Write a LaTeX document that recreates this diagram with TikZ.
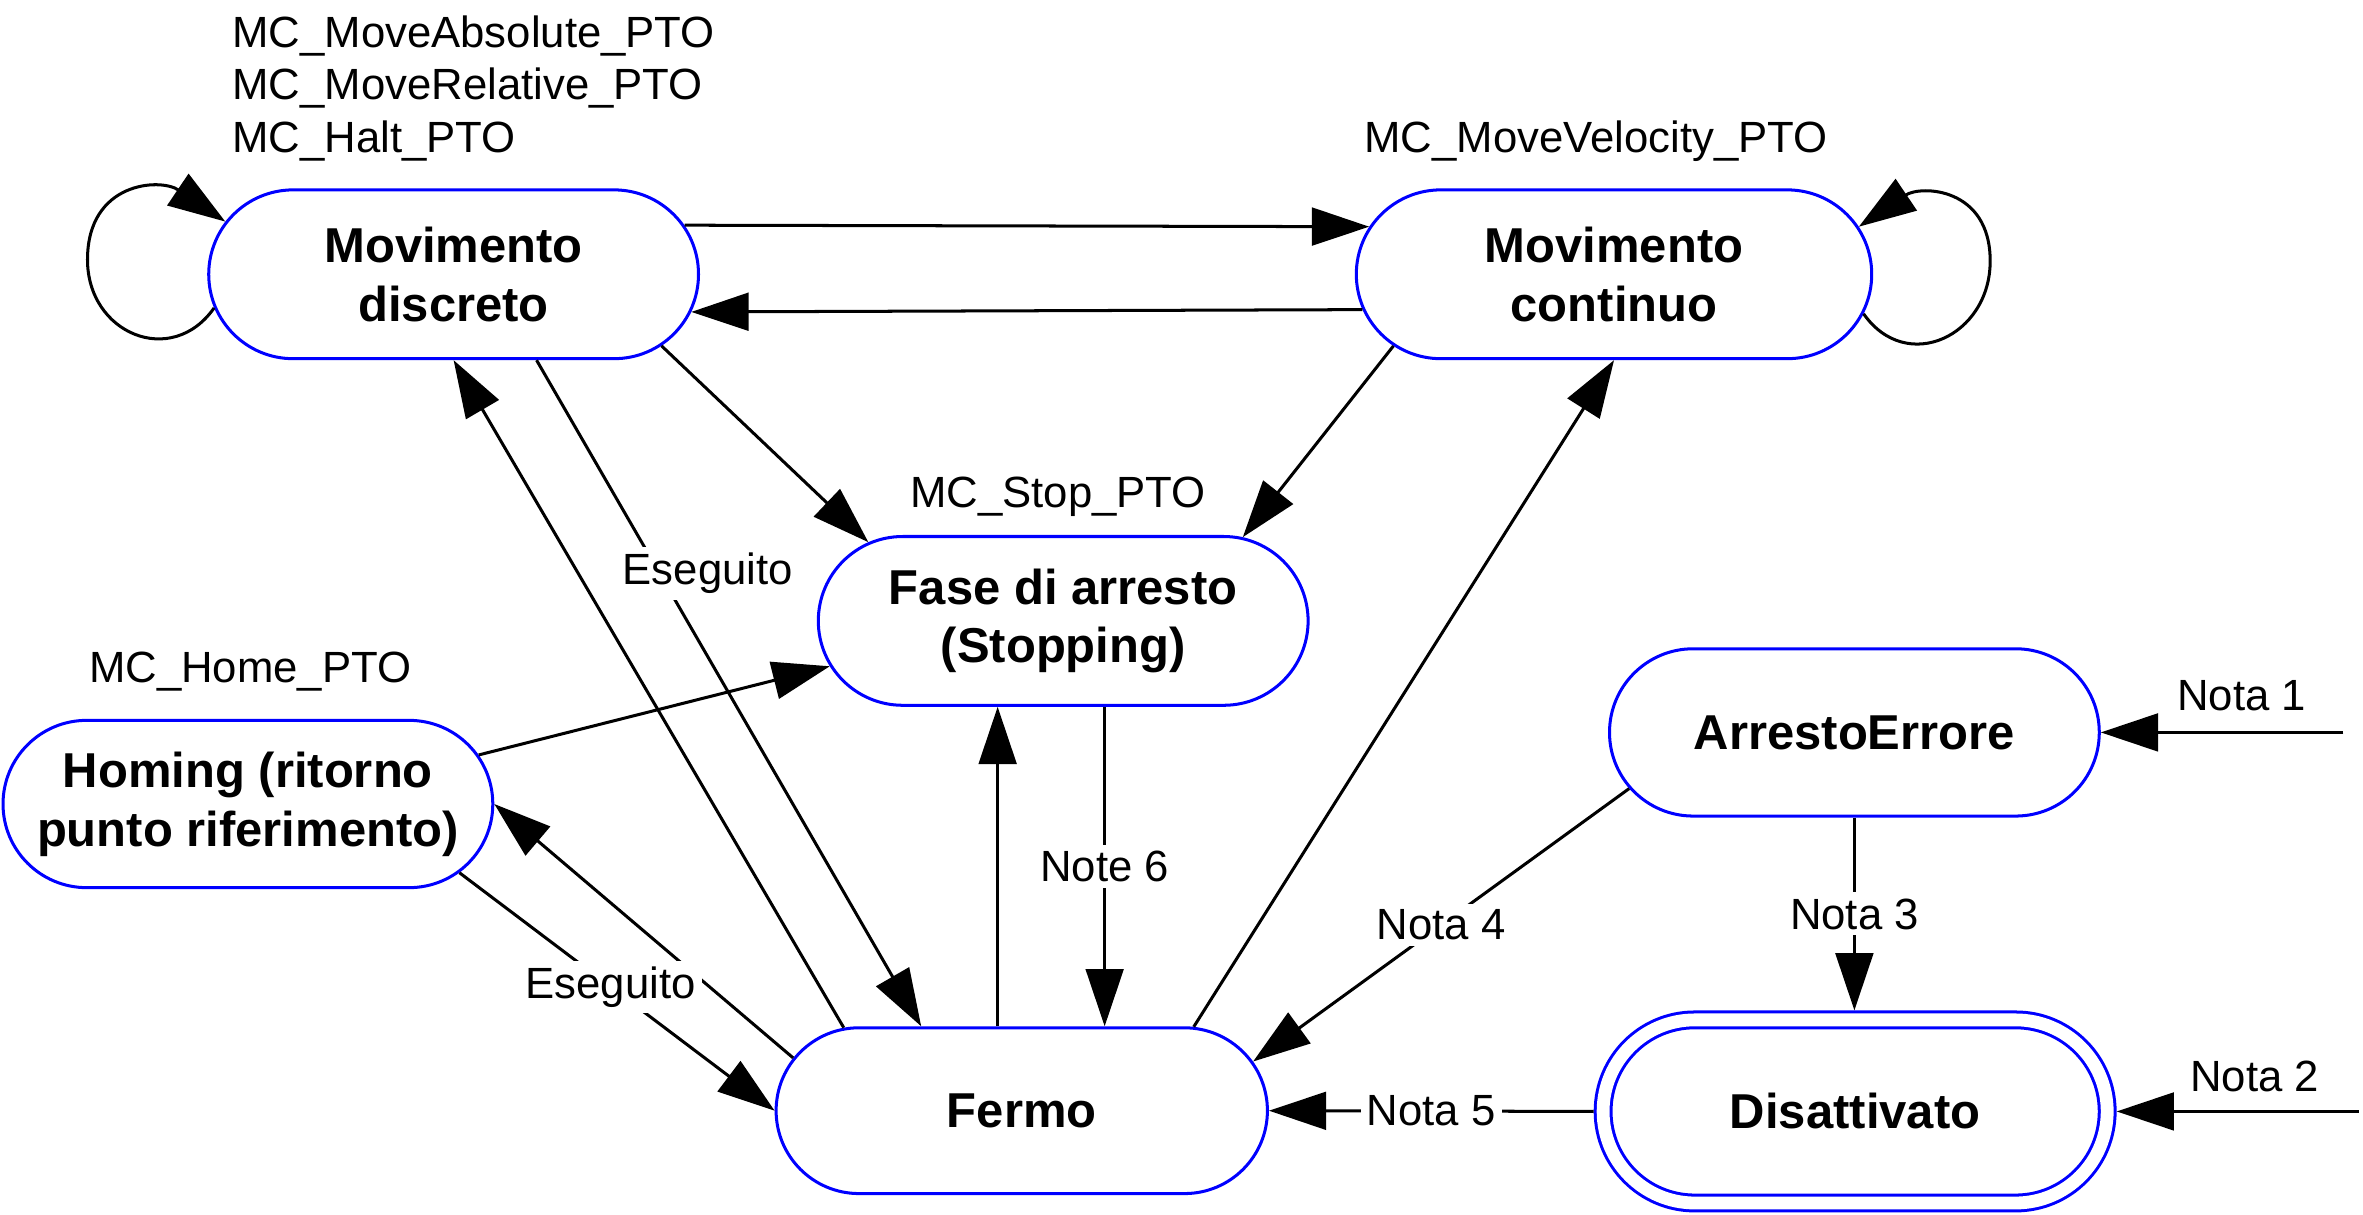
\documentclass[tikz,border=0pt]{standalone}
\usepackage{fontspec}
\setmainfont{Liberation Sans}
\usepackage{tikz}
\usetikzlibrary{arrows.meta,positioning,calc,shapes.misc}
\definecolor{stblue}{RGB}{0,0,255}
\tikzset{
  stnode/.style={rounded rectangle,draw=stblue,line width=2pt,minimum width=325pt,minimum height=112pt,inner sep=0pt,align=center,font=\bfseries\fontsize{32.5}{39}\selectfont},
  fbname/.style={inner sep=0pt,font=\fontsize{29}{35}\selectfont},
  note/.style={fill=white,inner sep=4pt,font=\fontsize{29}{35}\selectfont},
  trans/.style={line width=2pt,->}
}
\begin{document}
\begin{tikzpicture}[x=1pt,y=1pt,>={Triangle[length=38pt,width=25pt]},line join=miter]
\useasboundingbox (0,0) rectangle (1568,-806);
\node[stnode] at (301,-182) (md) {Movimento\\discreto};
\node[stnode,minimum width=342pt] at (1071,-182) (mc) {Movimento\\continuo};
\node[stnode] at (705.5,-412) (fa) {Fase di arresto\\(Stopping)};
\node[stnode,minimum height=111pt] at (164.5,-533.5) (ho) {Homing (ritorno\\punto riferimento)};
\node[stnode,minimum height=111pt] at (1230.5,-486) (ae) {ArrestoErrore};
\node[stnode,minimum width=326pt,minimum height=110pt] at (678,-737) (fe) {Fermo};
\node[stnode,double=white,double distance=8.5pt,minimum width=334.5pt,minimum height=121.5pt,outer sep=6.3pt] at (1231,-737.5) (di) {Disattivato};
\node[fbname,anchor=north west,align=left] at (154,-10) (fbmd) {MC\_MoveAbsolute\_PTO\\MC\_MoveRelative\_PTO\\MC\_Halt\_PTO};
\node[fbname,anchor=base] at (1059,-101) (fbmc) {MC\_MoveVelocity\_PTO};
\node[fbname,anchor=base] at (702,-337) (fbfa) {MC\_Stop\_PTO};
\node[fbname,anchor=base] at (166,-453) (fbho) {MC\_Home\_PTO};
\coordinate (n1) at (1555,-486);
\coordinate (n2) at (1565,-737.5);
\draw [trans] (md.188) to[out=235,in=270,looseness=1.4] ++(-84,32) to[out=90,in=146,looseness=1.4] (md.167);
\draw [trans] (mc.351) to[out=305,in=270,looseness=1.4] ++(84,35) to[out=90,in=34,looseness=1.4] (mc.11);
\draw [trans] (md.12) -- (mc.169);
\draw [trans] (mc.188) -- (md.351);
\draw [trans] (md.341) -- (fa.158);
\draw [trans] (mc.198) -- (fa.25);
\draw [trans] (md.314) -- node[note,pos=0.32,xshift=32pt] {Eseguito} (fe.140);
\draw [trans] (fe.155) -- (md.south);
\draw [trans] (fe.26) -- (mc.south);
\draw [trans] (ho.12) -- (fa.191);
\draw [trans] (fe.167) -- (ho.east);
\draw [trans] (ho.342) -- node[note,pos=0.48] {Eseguito} (fe.west);
\draw [trans] ([xshift=-16pt]fe.north) -- ([xshift=-16pt]fe.north |- fa.south);
\draw [trans] ([xshift=27.5pt]fa.south) -- node[note] {Note 6} ([xshift=27.5pt]fa.south |- fe.north);
\draw [trans] (ae.194) -- node[note] {Nota 4} (fe.12);
\draw [trans] (ae.south) -- node[note] {Nota 3} (ae.south |- di.north);
\draw [trans] (di.west) -- node[note] {Nota 5} (fe.east);
\draw [trans] (n1) -- node[fbname,pos=0.42,above=13pt] {Nota 1} (ae.east);
\draw [trans] (n2) -- node[fbname,pos=0.43,above=12pt] {Nota 2} (di.east);
\end{tikzpicture}
\end{document}
